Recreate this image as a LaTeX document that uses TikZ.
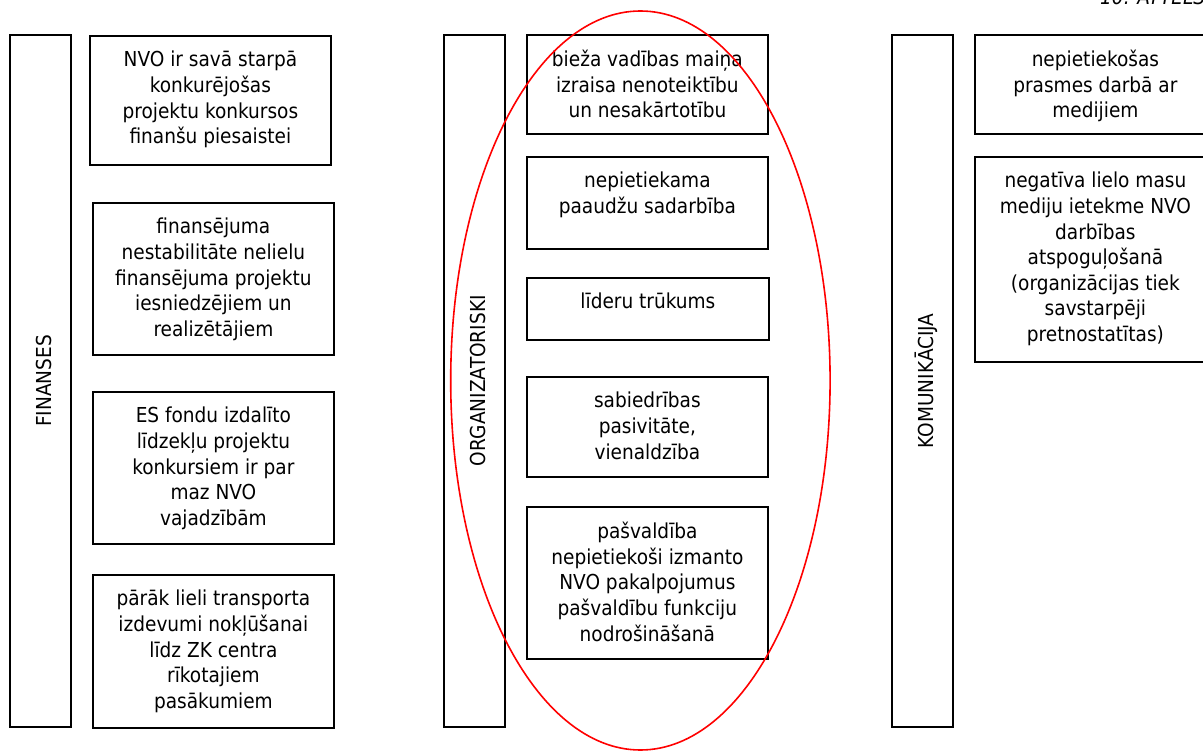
\documentclass[tikz,border=0pt]{standalone}
\usepackage{fontspec}
\setmainfont{DejaVu Sans Condensed}
\begin{document}
\begin{tikzpicture}[x=1pt,y=-1pt,
  frame/.style={draw=black,line width=1.8pt,inner sep=0pt,anchor=north west},
  txt/.style={anchor=north,align=center,inner sep=0pt,font=\fontsize{20.6}{25.6}\selectfont},
  vlab/.style={rotate=90,inner sep=0pt,font=\fontsize{20.6}{25.6}\selectfont},
  ring/.style={draw=red,line width=1.6pt}]
\useasboundingbox (0,0) rectangle (1203,751);

% top right caption
\node[anchor=base west,inner sep=0pt,font=\fontsize{20.6}{25.6}\selectfont\itshape] (cap) at (1100,4.7) {10. ATTĒLS};

% ---- FINANSES column
\node[frame,minimum width=61pt,minimum height=692pt] (fv) at (9,34) {};
\node[vlab] (fvl) at ([xshift=3.5pt]fv.center) {FINANSES};
\node[frame,minimum width=241pt,minimum height=129pt] (f1) at (89,35) {};
\node[txt] (f1t) at ([yshift=-16pt]f1.north) {NVO ir savā starpā\\konkurējošas\\projektu konkursos\\finanšu piesaistei};
\node[frame,minimum width=241pt,minimum height=152pt] (f2) at (92,202) {};
\node[txt] (f2t) at ([yshift=-16pt]f2.north) {finansējuma\\nestabilitāte nelielu\\finansējuma projektu\\iesniedzējiem un\\realizētājiem};
\node[frame,minimum width=241pt,minimum height=152pt] (f3) at (92,391) {};
\node[txt] (f3t) at ([yshift=-16pt]f3.north) {ES fondu izdalīto\\līdzekļu projektu\\konkursiem ir par\\maz NVO\\vajadzībām};
\node[frame,minimum width=241pt,minimum height=153pt] (f4) at (92,574) {};
\node[txt] (f4t) at ([yshift=-16pt]f4.north) {pārāk lieli transporta\\izdevumi nokļūšanai\\līdz ZK centra\\rīkotajiem\\pasākumiem};

% ---- ORGANIZATORISKI column
\node[frame,minimum width=61pt,minimum height=692pt] (ov) at (443,34) {};
\node[vlab] (ovl) at ([xshift=3.5pt]ov.center) {ORGANIZATORISKI};
\node[frame,minimum width=241pt,minimum height=99pt] (o1) at (526,34) {};
\node[txt] (o1t) at ([yshift=-16pt]o1.north) {bieža vadības maiņa\\izraisa nenoteiktību\\un nesakārtotību};
\node[frame,minimum width=241pt,minimum height=92pt] (o2) at (526,156) {};
\node[txt] (o2t) at ([yshift=-16pt]o2.north) {nepietiekama\\paaudžu sadarbība};
\node[frame,minimum width=242pt,minimum height=62pt] (o3) at (526,277) {};
\node[txt] (o3t) at ([yshift=-16pt]o3.north) {līderu trūkums};
\node[frame,minimum width=241pt,minimum height=100pt] (o4) at (526,376) {};
\node[txt] (o4t) at ([yshift=-16pt]o4.north) {sabiedrības\\pasivitāte,\\vienaldzība};
\node[frame,minimum width=241pt,minimum height=152pt] (o5) at (526,506) {};
\node[txt] (o5t) at ([yshift=-16pt]o5.north) {pašvaldība\\nepietiekoši izmanto\\NVO pakalpojumus\\pašvaldību funkciju\\nodrošināšanā};

% ---- KOMUNIKĀCIJA column
\node[frame,minimum width=61pt,minimum height=692pt] (kv) at (891,34) {};
\node[vlab] (kvl) at ([xshift=3.5pt]kv.center) {KOMUNIKĀCIJA};
\node[frame,minimum width=241pt,minimum height=99pt] (k1) at (974,34) {};
\node[txt] (k1t) at ([yshift=-16pt]k1.north) {nepietiekošas\\prasmes darbā ar\\medijiem};
\node[frame,minimum width=241pt,minimum height=205pt] (k2) at (974,156) {};
\node[txt] (k2t) at ([yshift=-16pt]k2.north) {negatīva lielo masu\\mediju ietekme NVO\\darbības\\atspoguļošanā\\(organizācijas tiek\\savstarpēji\\pretnostatītas)};

% ---- red ellipse
\draw[ring] (640.4,380.5) ellipse [x radius=189.7pt, y radius=369.5pt];
\end{tikzpicture}
\end{document}
